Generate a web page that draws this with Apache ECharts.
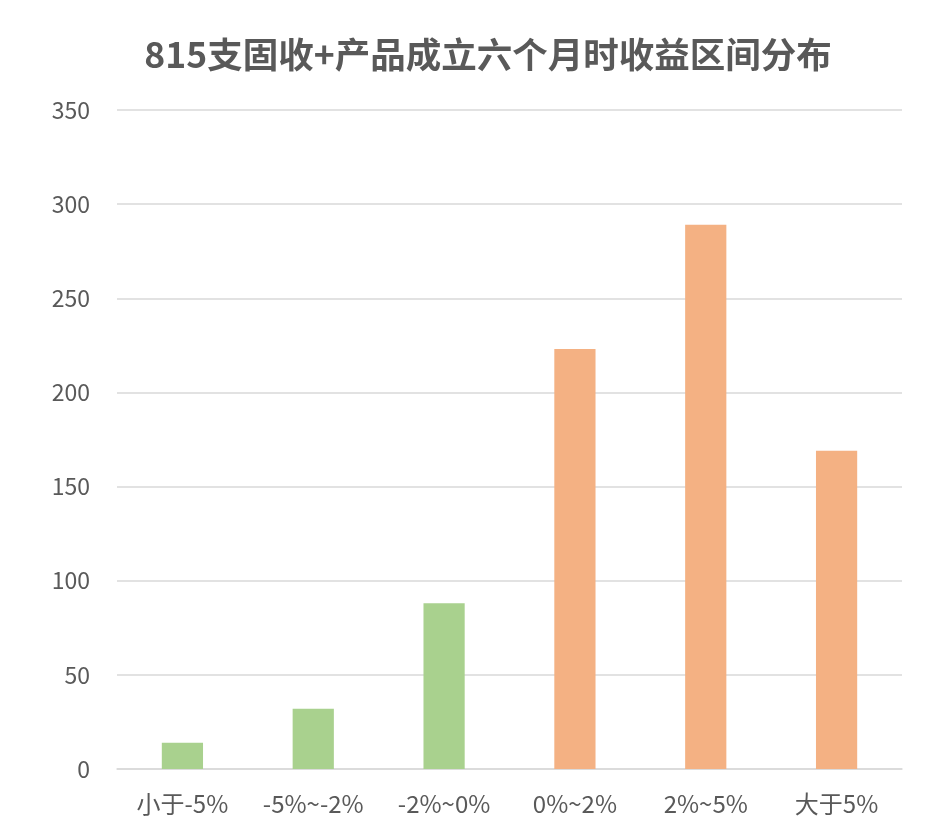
<!DOCTYPE html>
<html><head><meta charset="utf-8">
<script src="https://cdn.jsdelivr.net/npm/echarts@6/dist/echarts.min.js"></script>
<style>html,body{margin:0;padding:0;background:#fff}#c{width:931px;height:838px}</style>
</head><body><div id="c"></div>
<script>
const titleText = '815支固收+产品成立六个月时收益区间分布';
const categories = ['小于-5%', '-5%~-2%', '-2%~0%', '0%~2%', '2%~5%', '大于5%'];
const values = [14, 32, 88, 223, 289, 169];
const barColors = ['#A9D18E', '#A9D18E', '#A9D18E', '#F4B183', '#F4B183', '#F4B183'];
const yTicks = [0, 50, 100, 150, 200, 250, 300, 350];

const chart = echarts.init(document.getElementById('c'), null, {renderer: 'canvas'});
const font = '"Noto Sans CJK SC", "Noto Sans", sans-serif';
chart.setOption({
  animation: false,
  backgroundColor: '#ffffff',
  title: {
    text: titleText, left: 483, top: 32, textAlign: 'center',
    textStyle: {fontFamily: font, fontSize: 35.5, fontWeight: 'bold', color: '#595959'}
  },
  grid: {left: 117, right: 29, top: 110, bottom: 69},
  xAxis: {
    type: 'category', data: categories,
    axisTick: {show: false},
    axisLine: {lineStyle: {color: '#D9D9D9', width: 1.5}},
    axisLabel: {interval: 0, hideOverlap: false, fontFamily: font, fontSize: 24, color: '#595959', margin: 23}
  },
  yAxis: {
    type: 'value', min: yTicks[0], max: yTicks[yTicks.length - 1], interval: 50,
    axisLine: {show: false}, axisTick: {show: false},
    splitLine: {lineStyle: {color: '#D9D9D9', width: 1.5}},
    axisLabel: {fontFamily: font, fontSize: 23, color: '#595959', margin: 27}
  },
  series: [{
    type: 'bar', barWidth: '31.5%',
    data: values.map((v, i) => ({value: v, itemStyle: {color: barColors[i]}}))
  }]
});
</script></body></html>
